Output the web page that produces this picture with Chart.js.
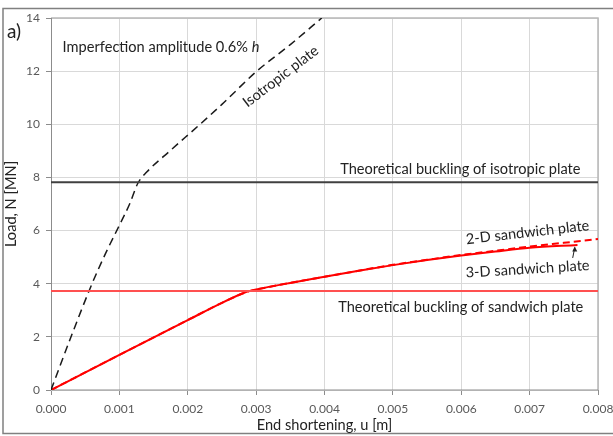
<!DOCTYPE html>
<html>
<head>
<meta charset="utf-8">
<script src="https://cdn.jsdelivr.net/npm/chart.js@4/dist/chart.umd.min.js"></script>
<style>
  html, body { margin: 0; padding: 0; background: #fff; }
  #wrap { width: 613px; height: 436px; position: relative; }
</style>
</head>
<body>
<div id="wrap"><canvas id="c" width="613" height="436"></canvas></div>
<script>
// End shortening u [m] and load N [MN] for each model
const isoU   = [0, 0.0003, 0.0006, 0.0008, 0.001, 0.00115, 0.00127, 0.0014, 0.00174, 0.00218, 0.0025, 0.00301, 0.0035, 0.00396];
const isoN   = [0, 2.05,   4.0,    5.15,   6.2,   7.0,     7.78,    8.2,    9.0,     10.0,    10.75,  12.0,    13.0,   14.0];

const sand3dU = [0, 0.001, 0.002, 0.0025, 0.0028, 0.0029, 0.003, 0.0035, 0.004, 0.0045, 0.005, 0.0055, 0.006, 0.0065, 0.007, 0.0077];
const sand3dN = [0, 1.32,  2.63,  3.28,   3.63,   3.72,   3.78,  4.03,   4.26,  4.49,   4.70,  4.89,   5.06,  5.21,   5.35,  5.46];

const sand2dU = [0, 0.001, 0.002, 0.0025, 0.0028, 0.0029, 0.003, 0.0035, 0.004, 0.0045, 0.005, 0.0055, 0.006, 0.0065, 0.007, 0.0075, 0.008];
const sand2dN = [0, 1.32,  2.63,  3.28,   3.63,   3.72,   3.78,  4.03,   4.26,  4.49,   4.71,  4.90,   5.08,  5.24,   5.40,  5.54,   5.68];

// Theoretical buckling loads [MN]
const bucklingIso  = 7.82;
const bucklingSand = 3.73;

// Axis ranges and tick steps
const uRange = [0, 0.008];
const uStep  = 0.001;
const nRange = [0, 14];
const nStep  = 2;

const FONT = 'Lato, "Open Sans", sans-serif';
const TEXT_SIZE = 14.6;

const pts = (xs, ys) => xs.map((x, i) => ({ x, y: ys[i] }));
const hline = v => [{ x: uRange[0], y: v }, { x: uRange[1], y: v }];

// Frame around the whole figure and around the plot area
const framePlugin = {
  id: 'frame',
  beforeDraw(chart) {
    const ctx = chart.ctx;
    ctx.save();
    ctx.fillStyle = '#fff';
    ctx.fillRect(0, 0, chart.width, chart.height);
    ctx.strokeStyle = '#808080';
    ctx.lineWidth = 1.5;
    ctx.strokeRect(3, 8.5, 620, 425);
    ctx.restore();
  },
  beforeDatasetsDraw(chart) {
    const { ctx, chartArea: a } = chart;
    ctx.save();
    ctx.strokeStyle = '#b8b8b8';
    ctx.lineWidth = 1.5;
    ctx.beginPath();
    ctx.moveTo(a.left, a.top);
    ctx.lineTo(a.right, a.top);
    ctx.lineTo(a.right, a.bottom);
    ctx.stroke();
    ctx.strokeStyle = '#8c8c8c';
    ctx.lineWidth = 1;
    ctx.beginPath();
    ctx.moveTo(a.left + 0.5, a.top);
    ctx.lineTo(a.left + 0.5, a.bottom);
    ctx.lineTo(a.right, a.bottom);
    ctx.stroke();
    ctx.restore();
  }
};

// Labels placed on the plot in data units
const labelPlugin = {
  id: 'labels',
  afterDatasetsDraw(chart) {
    const { ctx, scales: { x, y } } = chart;
    const px = v => x.getPixelForValue(v);
    const py = v => y.getPixelForValue(v);
    const text = (str, ux, uy, opts = {}) => {
      ctx.save();
      ctx.translate(px(ux), py(uy));
      ctx.rotate((opts.angle || 0) * Math.PI / 180);
      ctx.font = (opts.style || '') + ' ' + (opts.size || TEXT_SIZE) + 'px ' + FONT;
      ctx.fillStyle = opts.color || '#222';
      ctx.textAlign = opts.align || 'left';
      ctx.textBaseline = 'middle';
      ctx.fillText(str, 0, 0);
      ctx.restore();
    };

    // panel letter
    ctx.save();
    ctx.font = '19px ' + FONT;
    ctx.fillStyle = '#222';
    ctx.textBaseline = 'middle';
    ctx.fillText('a)', 7, 32);
    ctx.restore();

    // imperfection note with italic h
    ctx.save();
    ctx.font = TEXT_SIZE + 'px ' + FONT;
    ctx.fillStyle = '#222';
    ctx.textBaseline = 'middle';
    const note = 'Imperfection amplitude 0.6% ';
    const nx = px(0.00017), ny = py(12.9);
    ctx.fillText(note, nx, ny);
    const w = ctx.measureText(note).width;
    ctx.font = 'italic ' + TEXT_SIZE + 'px ' + FONT;
    ctx.fillText('h', nx + w, ny);
    ctx.restore();

    text('Isotropic plate', 0.00336, 11.8, { angle: -37.5, align: 'center' });
    text('Theoretical buckling of isotropic plate', 0.00423, 8.3);
    text('Theoretical buckling of sandwich plate', 0.0042, 3.13);
    text('2-D sandwich plate', 0.00697, 5.93, { angle: -6.5, align: 'center' });
    text('3-D sandwich plate', 0.00697, 4.55, { angle: -3.5, align: 'center' });

    // arrow from the 3-D label to its curve
    ctx.save();
    ctx.strokeStyle = '#222';
    ctx.fillStyle = '#222';
    ctx.lineWidth = 1;
    const ax0 = px(0.00763), ay0 = py(4.97);
    const ax1 = px(0.00766), ay1 = py(5.36);
    ctx.beginPath();
    ctx.moveTo(ax0, ay0);
    ctx.lineTo(ax1, ay1);
    ctx.stroke();
    ctx.beginPath();
    ctx.moveTo(ax1, ay1 - 1);
    ctx.lineTo(ax1 - 2.5, ay1 + 4);
    ctx.lineTo(ax1 + 2.5, ay1 + 4);
    ctx.closePath();
    ctx.fill();
    ctx.restore();
  }
};

new Chart(document.getElementById('c'), {
  type: 'scatter',
  data: {
    datasets: [
      {
        label: 'Theoretical buckling of isotropic plate',
        data: hline(bucklingIso),
        showLine: true, borderColor: '#404040', borderWidth: 2, pointRadius: 0
      },
      {
        label: 'Theoretical buckling of sandwich plate',
        data: hline(bucklingSand),
        showLine: true, borderColor: '#ff5050', borderWidth: 2, pointRadius: 0
      },
      {
        label: 'Isotropic plate',
        data: pts(isoU, isoN),
        showLine: true, borderColor: '#1a1a1a', borderWidth: 1.5, borderDash: [8, 5], pointRadius: 0,
        cubicInterpolationMode: 'monotone'
      },
      {
        label: '3-D sandwich plate',
        data: pts(sand3dU, sand3dN),
        showLine: true, borderColor: '#ff0000', borderWidth: 2, pointRadius: 0,
        cubicInterpolationMode: 'monotone'
      },
      {
        label: '2-D sandwich plate',
        data: pts(sand2dU, sand2dN),
        showLine: true, borderColor: '#ff0000', borderWidth: 2, borderDash: [7, 4], pointRadius: 0,
        cubicInterpolationMode: 'monotone'
      }
    ]
  },
  options: {
    responsive: false,
    animation: false,
    layout: { padding: { left: 3, top: 18, right: 15, bottom: 2 } },
    plugins: { legend: { display: false }, tooltip: { enabled: false } },
    scales: {
      x: {
        type: 'linear',
        min: uRange[0], max: uRange[1],
        afterFit: s => { s.height = 44; s.paddingLeft = 0; s.paddingRight = 0; },
        border: { display: false },
        grid: { color: '#d9d9d9', lineWidth: 1, tickLength: 5, tickColor: '#8c8c8c' },
        ticks: {
          stepSize: uStep, padding: 7, color: '#595959',
          font: { family: FONT, size: 12 },
          callback: v => v.toFixed(3)
        },
        title: {
          display: true, text: 'End shortening, u [m]', color: '#222',
          font: { family: FONT, size: TEXT_SIZE }, padding: { top: 0, bottom: 0 }
        }
      },
      y: {
        min: nRange[0], max: nRange[1],
        afterFit: s => { s.width = 48; s.paddingTop = 0; s.paddingBottom = 0; },
        border: { display: false },
        grid: { color: '#d9d9d9', lineWidth: 1, tickLength: 5, tickColor: '#8c8c8c' },
        ticks: {
          stepSize: nStep, padding: 6, color: '#595959',
          font: { family: FONT, size: 12 }
        },
        title: {
          display: true, text: 'Load, N [MN]', color: '#222',
          font: { family: FONT, size: TEXT_SIZE }, padding: { top: 0, bottom: 0 }
        }
      }
    }
  },
  plugins: [framePlugin, labelPlugin]
});
</script>
</body>
</html>
